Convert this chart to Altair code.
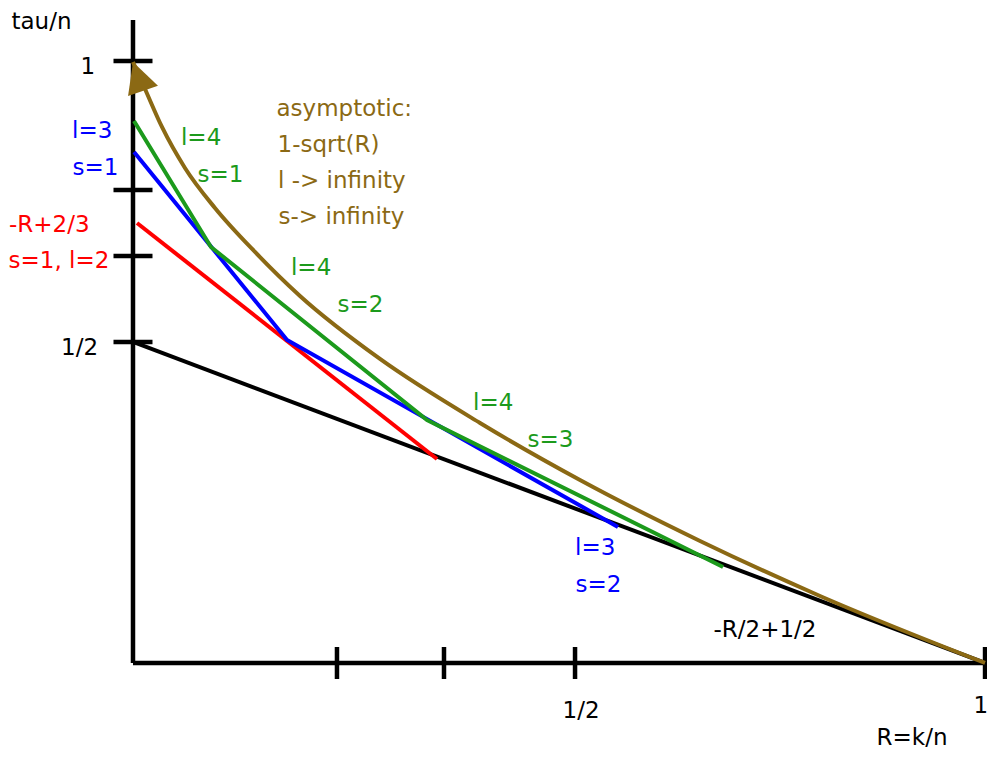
import altair as alt
import pandas as pd

# ---------------- data (figure units: R = k/n across, tau/n up) ----------------
black_R = [0.0, 1.0]
black_tau = [0.5332, 0.0]

red_R = [0.0047, 0.3568]
red_tau = [0.7309, 0.3389]

blue_R = [0.0012, 0.1808, 0.5692]
blue_tau = [0.8488, 0.5365, 0.2259]

green_R = [0.0012, 0.0915, 0.3451, 0.6925]
green_tau = [0.9003, 0.6910, 0.4037, 0.1595]

asym_R = [0.0, 0.0141, 0.0340, 0.0610, 0.0962, 0.1432, 0.1960, 0.2899,
          0.4073, 0.5246, 0.6655, 0.8063, 1.0]
asym_tau = [0.9983, 0.9535, 0.8904, 0.8223, 0.7558, 0.6827, 0.6096, 0.5050,
            0.3987, 0.3040, 0.2027, 0.1113, 0.0]

arrow_R = [0.0059]
arrow_tau = [0.9743]

axis_top = 1.068
axis_right = 1.012
x_ticks = [0.2394, 0.3650, 0.5188, 1.0]
y_ticks = [1.0, 0.7857, 0.6761, 0.5332]

label_text = ["tau/n", "1", "1/2", "1/2", "1", "R=k/n", "-R/2+1/2",
              "l=3", "s=1", "l=3", "s=2",
              "l=4", "s=1", "l=4", "s=2", "l=4", "s=3",
              "-R+2/3", "s=1, l=2",
              "asymptotic:", "1-sqrt(R)", "l -> infinity", "s-> infinity"]
label_R = [-0.1426, -0.0616, -0.0845, 0.5041, 0.9865, 0.8727, 0.6813,
           -0.0716, -0.0710, 0.5188, 0.5194,
           0.0563, 0.0757, 0.1854, 0.2400, 0.3991, 0.4630,
           -0.1455, -0.1461,
           0.1684, 0.1696, 0.1702, 0.1708]
label_tau = [1.0523, 0.9784, 0.5116, -0.0914, -0.0831, -0.1362, 0.0432,
             0.8721, 0.8106, 0.1794, 0.1179,
             0.8605, 0.7990, 0.6445, 0.5831, 0.4203, 0.3588,
             0.7159, 0.6561,
             0.9086, 0.8488, 0.7890, 0.7292]
label_group = ["axis"] * 7 + ["l3"] * 4 + ["l4"] * 6 + ["l2"] * 2 + ["asym"] * 4

# ---------------- styling ----------------
W, H = 979, 741
xs = alt.Scale(domain=[-0.1467, 1.0023], nice=False, zero=False)
ys = alt.Scale(domain=[-0.1429, 1.0880], nice=False, zero=False)
BROWN = "#8b6914"
GREEN = "#1c9a1c"
FONT = "DejaVu Sans"


def X(field="R"):
    return alt.X(f"{field}:Q", scale=xs, axis=None)


def Y(field="tau"):
    return alt.Y(f"{field}:Q", scale=ys, axis=None)


layers = []

# axes
yaxis = pd.DataFrame({"R": [0.0], "tau": [0.0], "tau2": [axis_top]})
xaxis = pd.DataFrame({"R": [0.0], "R2": [axis_right], "tau": [0.0]})
layers.append(alt.Chart(yaxis).mark_rule(color="black", strokeWidth=4.5).encode(
    x=X(), y=Y(), y2="tau2:Q"))
layers.append(alt.Chart(xaxis).mark_rule(color="black", strokeWidth=4.5).encode(
    x=X(), x2="R2:Q", y=Y()))
layers.append(alt.Chart(pd.DataFrame({"R": [0.0] * len(y_ticks), "tau": y_ticks}))
              .mark_tick(orient="horizontal", size=39, thickness=4.5, color="black", opacity=1)
              .encode(x=X(), y=Y()))
layers.append(alt.Chart(pd.DataFrame({"R": x_ticks, "tau": [0.0] * len(x_ticks)}))
              .mark_tick(orient="vertical", size=32, thickness=4.5, color="black", opacity=1)
              .encode(x=X(), y=Y()))

# lines
series = [
    (black_R, black_tau, "black"),
    (red_R, red_tau, "#ff0000"),
    (blue_R, blue_tau, "#0000ff"),
    (green_R, green_tau, GREEN),
]
for rr, tt, col in series:
    df = pd.DataFrame({"R": rr, "tau": tt, "i": range(len(rr))})
    layers.append(alt.Chart(df).mark_line(color=col, strokeWidth=4).encode(
        x=X(), y=Y(), order="i:Q"))

df_asym = pd.DataFrame({"R": asym_R, "tau": asym_tau, "i": range(len(asym_R))})
layers.append(alt.Chart(df_asym).mark_line(color=BROWN, strokeWidth=4, interpolate="monotone")
              .encode(x=X(), y=Y(), order="i:Q"))
layers.append(alt.Chart(pd.DataFrame({"R": arrow_R, "tau": arrow_tau}))
              .mark_point(shape="M0,-1L-1.03,1L1.03,1Z", size=942, filled=True,
                          color=BROWN, opacity=1, angle=341, strokeWidth=0)
              .encode(x=X(), y=Y()))

# labels
labels = pd.DataFrame({"text": label_text, "R": label_R, "tau": label_tau, "g": label_group})
layers.append(alt.Chart(labels).mark_text(font=FONT, fontSize=23, align="left",
                                          baseline="alphabetic")
              .encode(x=X(), y=Y(), text="text:N",
                      color=alt.Color("g:N", legend=None,
                                      scale=alt.Scale(domain=["axis", "l3", "l4", "l2", "asym"],
                                                      range=["black", "#0000ff", GREEN,
                                                             "#ff0000", BROWN]))))

chart = alt.layer(*layers).properties(
    width=W, height=H, padding=0, autosize="none", background="white"
).configure_view(stroke=None)

chart.save("out.html", embed_options={"renderer": "svg", "actions": False})
